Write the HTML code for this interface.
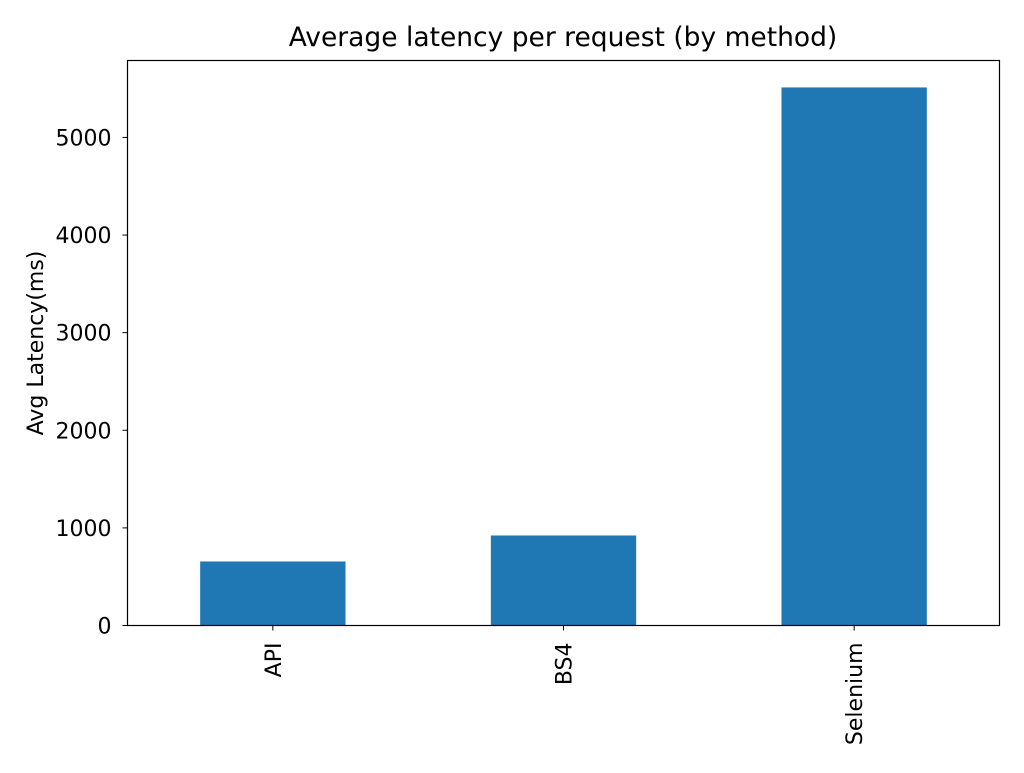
<!DOCTYPE html>
<html><head><meta charset="utf-8"><style>
body{margin:0;background:#fff;}
svg text{font-family:"DejaVu Sans","Liberation Sans",sans-serif;fill:#000;}
</style></head><body>
<svg id="chart" width="1024" height="768" xmlns="http://www.w3.org/2000/svg">
<rect width="1024" height="768" fill="#fff"/>
<text x="563" y="46" font-size="26.5" text-anchor="middle">Average latency per request (by method)</text>
<text x="0" y="0" font-size="22" text-anchor="middle" transform="translate(43,343) rotate(-90)">Avg Latency(ms)</text>
<g id="bars"></g><g id="yticks"></g><g id="xticks"></g>
<rect x="127.5" y="60.5" width="872" height="565" fill="none" stroke="#000" stroke-width="1.2"/>
</svg>
<script>
const categories = ["API","BS4","Selenium"];
const latencyValues = [656, 922, 5512];
const yTickLabels = [0,1000,2000,3000,4000,5000];
const NS="http://www.w3.org/2000/svg";
const L=127.5,R=999.5,T=60.5,B=625.5;
const yMax=5788;
function y(v){return B-(v/yMax)*(B-T);}
function x(i){return L+(i+0.5)*(R-L)/categories.length;}
const bw=0.5*(R-L)/categories.length;
const svg=document.getElementById('chart');
const gb=document.getElementById('bars'),gy=document.getElementById('yticks'),gx=document.getElementById('xticks');
function mk(t,a){const e=document.createElementNS(NS,t);for(const k in a)e.setAttribute(k,a[k]);return e;}
latencyValues.forEach((v,i)=>{
 const r=mk('rect',{x:x(i)-bw/2,y:y(v),width:bw,height:B-y(v),fill:'#1f77b4'});
 
 
 gb.appendChild(r);
 const tk=mk('line',{x1:x(i),x2:x(i),y1:B,y2:B+5,stroke:'#000','stroke-width':1});
 
 
 gx.appendChild(tk);
 const tx=mk('text',{x:0,y:0,'font-size':22,'text-anchor':'end',transform:`translate(${x(i)+8},${B+17}) rotate(-90)`});
 tx.textContent=categories[i];
 
 
 gx.appendChild(tx);
});
yTickLabels.forEach(v=>{
 const tk=mk('line',{x1:L-5,x2:L,y1:y(v),y2:y(v),stroke:'#000','stroke-width':1});
 
 
 gy.appendChild(tk);
 const tx=mk('text',{x:L-16,y:y(v)+8,'font-size':22,'text-anchor':'end'});
 tx.textContent=v;
 
 
 gy.appendChild(tx);
});
</script>
</body></html>
